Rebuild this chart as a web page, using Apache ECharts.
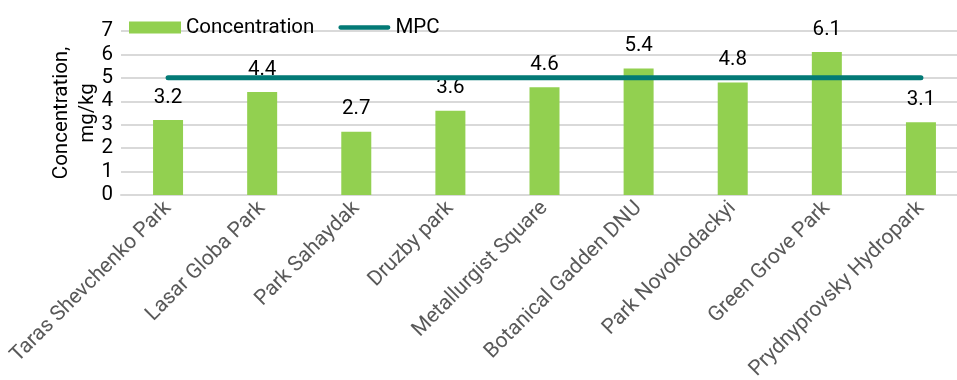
<!DOCTYPE html>
<html>
<head>
<meta charset="utf-8">
<script src="https://cdn.jsdelivr.net/npm/echarts@6/dist/echarts.min.js"></script>
<style>
  html, body { margin: 0; padding: 0; background: #fff; }
  #chart { width: 957px; height: 380px; }
</style>
</head>
<body>
<div id="chart"></div>
<script>
// Heavy-metal concentration in urban parks against the maximum permissible concentration
const parks = [
  'Taras Shevchenko Park', 'Lasar Globa Park', 'Park Sahaydak', 'Druzby park',
  'Metallurgist Square', 'Botanical Gadden DNU', 'Park Novokodackyi',
  'Green Grove Park', 'Prydnyprovsky Hydropark'
];
const concentration = [3.2, 4.4, 2.7, 3.6, 4.6, 5.4, 4.8, 6.1, 3.1];
const mpc = [5, 5, 5, 5, 5, 5, 5, 5, 5];
const yTicks = { min: 0, max: 7, interval: 1 };

const FONT = 'Roboto';
const LINE_COLOR = '#037a76';
const chart = echarts.init(document.getElementById('chart'), null, { renderer: 'canvas' });

chart.setOption({
  animation: false,
  textStyle: { fontFamily: FONT },
  legend: {
    left: 124,
    top: 12,
    itemWidth: 52,
    itemHeight: 12,
    itemGap: 24,
    textStyle: { fontFamily: FONT, fontSize: 20.5, color: '#000' },
    data: [
      { name: 'Concentration', icon: 'rect' },
      {
        name: 'MPC',
        icon: 'path://M2.5,0H57.5A2.5,2.5,0,0,1,57.5,5H2.5A2.5,2.5,0,0,1,2.5,0Z',
        itemStyle: { color: LINE_COLOR }
      }
    ]
  },
  // the plot runs slightly past the right edge of the canvas
  grid: { left: 121, width: 847, top: 31, bottom: 185, outerBoundsMode: 'none' },
  xAxis: {
    type: 'category',
    data: parks,
    axisLine: { show: true, lineStyle: { color: '#d9d9d9', width: 2 } },
    axisTick: { show: false },
    axisLabel: {
      interval: 0,
      rotate: 45,
      margin: 10,
      fontFamily: FONT,
      fontSize: 21,
      color: '#595959'
    }
  },
  yAxis: {
    type: 'value',
    min: yTicks.min,
    max: yTicks.max,
    interval: yTicks.interval,
    name: 'Concentration,\nmg/kg',
    nameLocation: 'middle',
    nameRotate: 90,
    nameGap: 20,
    nameMoveOverlap: false,
    nameTextStyle: { fontFamily: FONT, fontSize: 20.5, color: '#000', lineHeight: 26 },
    axisLine: { show: false },
    axisTick: { show: false },
    axisLabel: { margin: 8, fontFamily: FONT, fontSize: 20.5, color: '#000' },
    splitLine: { lineStyle: { color: '#d9d9d9', width: 2 } }
  },
  series: [
    {
      name: 'Concentration',
      type: 'bar',
      data: concentration,
      barWidth: 30,
      itemStyle: { color: '#92d050' },
      label: {
        show: true,
        position: 'top',
        distance: 12,
        fontFamily: FONT,
        fontSize: 20.5,
        color: '#000',
        formatter: p => p.value.toFixed(1)
      },
      z: 2
    },
    {
      name: 'MPC',
      type: 'line',
      data: mpc,
      symbol: 'none',
      lineStyle: { color: LINE_COLOR, width: 5, cap: 'round' },
      itemStyle: { color: LINE_COLOR },
      z: 3
    }
  ]
});
</script>
</body>
</html>
